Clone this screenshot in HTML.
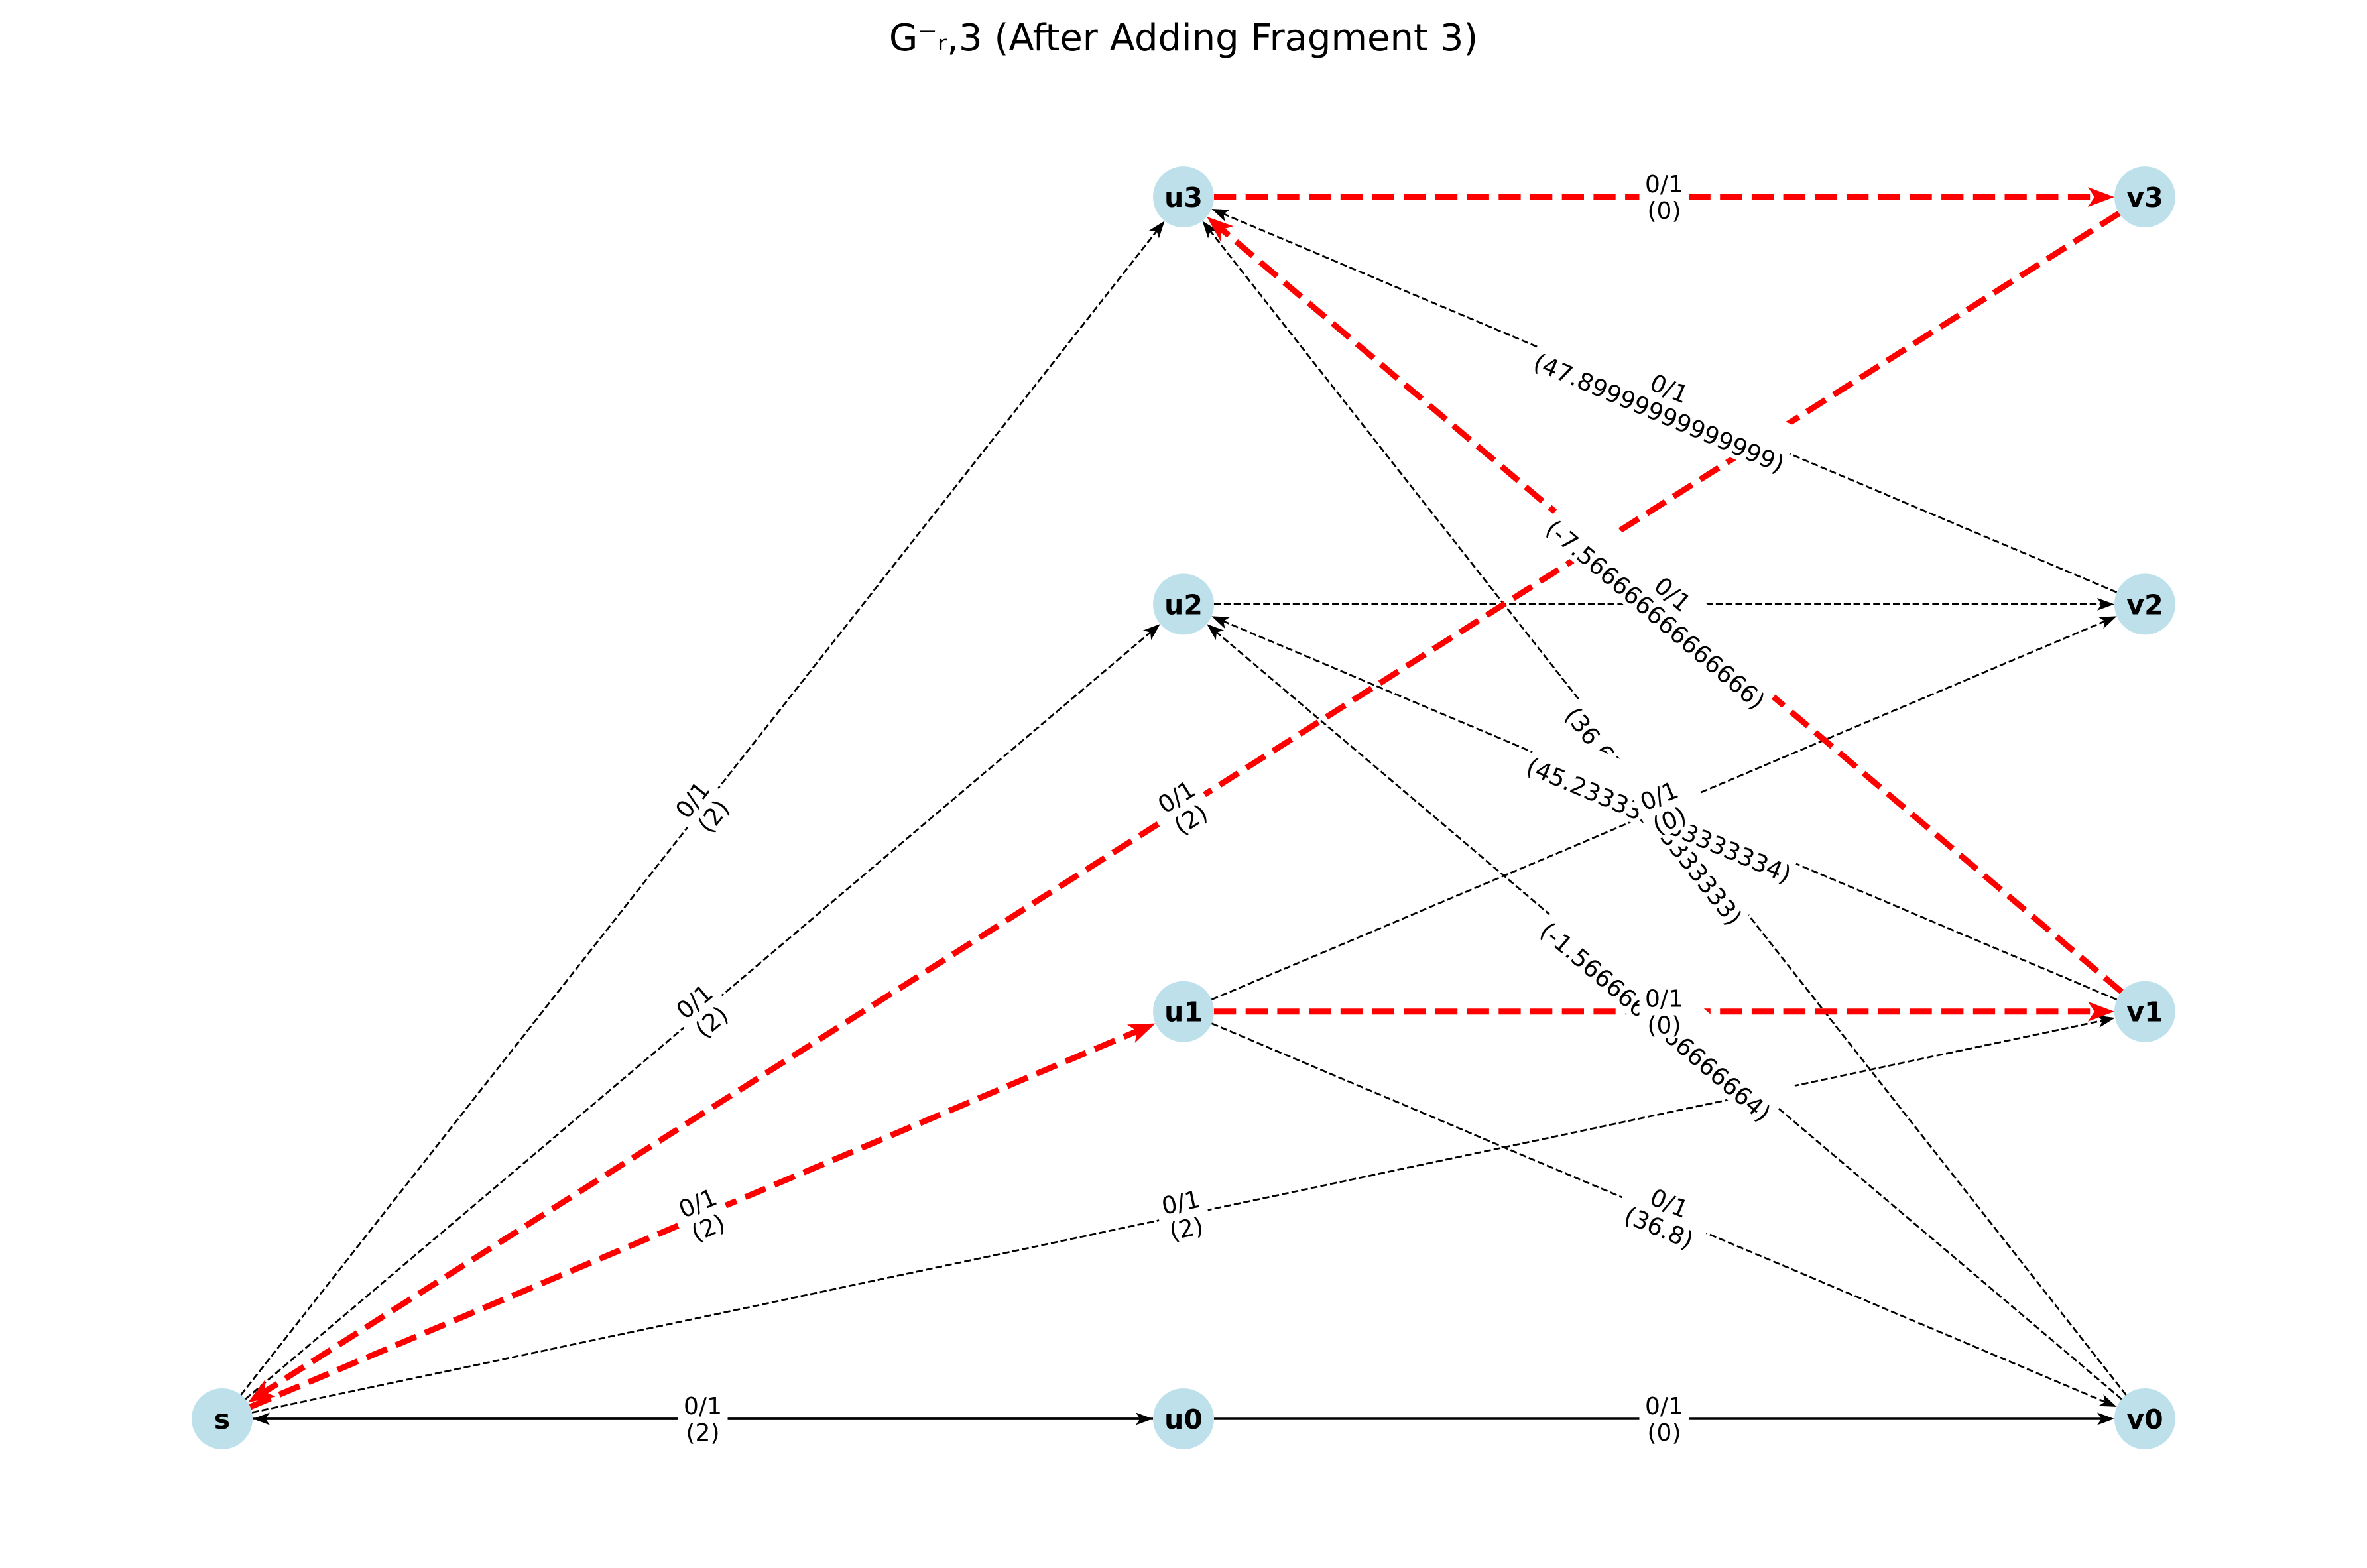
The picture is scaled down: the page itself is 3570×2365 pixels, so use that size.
<!DOCTYPE html>
<html><head><meta charset="utf-8">
<style>
html,body{margin:0;padding:0;background:#fff;}
svg{display:block;}
text{font-family:"DejaVu Sans","Liberation Sans",sans-serif;}
</style></head>
<body>
<svg id="chart" width="3570" height="2365" viewBox="0 0 3570 2365" xmlns="http://www.w3.org/2000/svg">
<rect width="3570" height="2365" fill="#fff"/>
<text x="1785" y="76" text-anchor="middle" font-size="56" fill="#000">G⁻ᵣ,3 (After Adding Fragment 3)</text>
<g id="edges"></g>
<g id="nodes"></g>
<g id="labels"></g>
</svg>
<script>
// ---- data ----
const nodeNames = ["s","u0","v0","u1","v1","u2","v2","u3","v3"];
const nodeCols  = [0,1,2,1,2,1,2,1,2];
const nodeRows  = [0,0,0,1,1,2,2,3,3];
const edgeFrom  = ["s","s","u2","v2","v0","v1","v0","u1","u1","s","u0","s","u0","u3","v3","v1","u1","s"];
const edgeTo    = ["u3","u2","v2","u3","u3","u2","u2","v2","v0","v1","s","u0","v0","v3","s","u3","v1","u1"];
const edgeFlow  = ["0/1","0/1","0/1","0/1","0/1","0/1","0/1","0/1","0/1","0/1","0/1","0/1","0/1","0/1","0/1","0/1","0/1","0/1"];
const edgeCost  = ["(2)","(2)","(0)","(47.89999999999999)","(36.63333333333333)","(45.233333333333334)","(-1.5666666666666664)","(0)","(36.8)","(2)","(2)","(2)","(0)","(0)","(2)","(-7.566666666666666)","(0)","(2)"];
const edgeStyle = ["dash","dash","dash","dash","dash","dash","dash","dash","dash","dash","solid","solid","solid","red","red","red","red","red"];

// ---- axes ----
const xScale = c => 335 + 1450*c;
const yScale = r => 2140 - 614.3*r;
const R = 46;
const NS = "http://www.w3.org/2000/svg";
function mk(tag, attrs, parent){const e=document.createElementNS(NS,tag);for(const k in attrs)e.setAttribute(k,attrs[k]);parent.appendChild(e);return e;}
const pos = {};
nodeNames.forEach((n,i)=>{pos[n]=[xScale(nodeCols[i]),yScale(nodeRows[i])];});

const gE=document.getElementById('edges'), gN=document.getElementById('nodes'), gL=document.getElementById('labels');
const order=[...edgeFrom.keys()].sort((a,b)=>(edgeStyle[a]==="red")-(edgeStyle[b]==="red"));
order.forEach(i=>{
  const [x1,y1]=pos[edgeFrom[i]], [x2,y2]=pos[edgeTo[i]];
  const dx=x2-x1, dy=y2-y1, L=Math.hypot(dx,dy), ux=dx/L, uy=dy/L;
  const st=edgeStyle[i];
  const red=st==="red";
  const lw=red?9:(st==="solid"?3.4:2.8);
  const col=red?"#ff0000":"#000";
  const ah=red?40:26, aw=red?30:19;
  const sx=x1+ux*R, sy=y1+uy*R, tx=x2-ux*R, ty=y2-uy*R;
  const ln=mk('line',{x1:sx,y1:sy,x2:tx-ux*ah*0.6,y2:ty-uy*ah*0.6,stroke:col,'stroke-width':lw},gE);
  if(st!=="solid") ln.setAttribute('stroke-dasharray',(3.7*lw)+" "+(1.6*lw));
  
  
  const bx=tx-ux*ah, by=ty-uy*ah, px=-uy, py=ux;
  const ar=mk('polygon',{points:`${tx},${ty} ${bx+px*aw/2},${by+py*aw/2} ${bx+ux*ah*0.25},${by+uy*ah*0.25} ${bx-px*aw/2},${by-py*aw/2}`,fill:col},gE);
  
  
  const mx=(x1+x2)/2, my=(y1+y2)/2;
  let ang=Math.atan2(dy,dx)*180/Math.PI;
  if(ang>90)ang-=180; if(ang<-90)ang+=180;
  const g=mk('g',{transform:`translate(${mx},${my}) rotate(${ang})`},gL);
  
  
  const w=Math.max(edgeFlow[i].length,edgeCost[i].length)*21+12;
  mk('rect',{x:-w/2,y:-42,width:w,height:82,fill:"#fff"},g);
  const t1=mk('text',{x:0,y:-7,'text-anchor':'middle','font-size':36},g); t1.textContent=edgeFlow[i];
  const t2=mk('text',{x:0,y:33,'text-anchor':'middle','font-size':36},g); t2.textContent=edgeCost[i];
});
nodeNames.forEach(n=>{
  const [x,y]=pos[n];
  const c=mk('circle',{cx:x,cy:y,r:R,fill:"#add8e6","fill-opacity":0.8},gN);
  
  
  const t=mk('text',{x:x,y:y+15,'text-anchor':'middle','font-size':41,'font-weight':'bold'},gN);
  t.textContent=n;
  
  
});
</script>
</body></html>
